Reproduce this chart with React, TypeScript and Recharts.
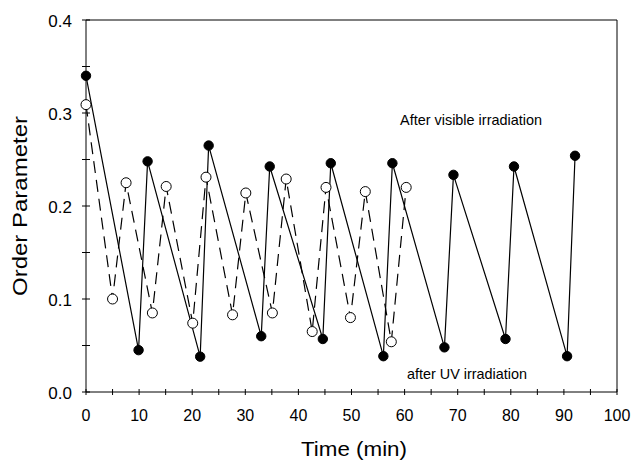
import React from "react";
import {
  ScatterChart, Scatter, XAxis, YAxis, ReferenceLine, Customized,
} from "recharts";

/* ─── data ─── */
const timeVisible = [0, 9.9, 11.6, 21.5, 23.1, 33.0, 34.6, 44.6, 46.1, 56.0, 57.7, 67.5, 69.2, 79.0, 80.6, 90.6, 92.1];
const orderVisible = [0.340, 0.045, 0.248, 0.038, 0.265, 0.060, 0.2425, 0.057, 0.246, 0.0385, 0.246, 0.048, 0.2335, 0.057, 0.2425, 0.0385, 0.254];
const timeOpen = [0, 5.0, 7.55, 12.5, 15.1, 20.1, 22.6, 27.6, 30.1, 35.1, 37.7, 42.6, 45.2, 49.8, 52.6, 57.5, 60.3];
const orderOpen = [0.309, 0.100, 0.225, 0.085, 0.221, 0.074, 0.231, 0.083, 0.214, 0.085, 0.229, 0.065, 0.220, 0.080, 0.2155, 0.054, 0.220];

const xTicks = [0, 5, 10, 15, 20, 25, 30, 35, 40, 45, 50, 55, 60, 65, 70, 75, 80, 85, 90, 95, 100];
const xLabels = [0, 10, 20, 30, 40, 50, 60, 70, 80, 90, 100];
const yTicks = [0, 0.05, 0.1, 0.15, 0.2, 0.25, 0.3, 0.35, 0.4];
const yLabels = ["0.0", "0.1", "0.2", "0.3", "0.4"];

const filledData = timeVisible.map((t, i) => ({ t, v: orderVisible[i] }));
const openData = timeOpen.map((t, i) => ({ t, v: orderOpen[i] }));

const FONT = "'Liberation Sans', Arial, sans-serif";
const Y_MARGIN = 14;
const X_MARGIN = 18;

function YTick(props: any) {
  const { x, y, payload } = props;
  const ax = x + Y_MARGIN;
  const idx = yTicks.indexOf(payload.value);
  const label = idx % 2 === 0 ? yLabels[idx / 2] : null;
  return (
    <g>
      <line x1={ax - 4} x2={ax + 4} y1={y} y2={y} stroke="#000" strokeWidth={1} />
      {label && (
        <text x={x} y={y + 1} dy="0.35em" textAnchor="end" fontSize={17} fontFamily={FONT} fill="#000">
          {label}
        </text>
      )}
    </g>
  );
}

function XTick(props: any) {
  const { x, y, payload } = props;
  const ay = y - X_MARGIN;
  const show = xLabels.includes(payload.value);
  return (
    <g>
      <line x1={x} x2={x} y1={ay - 3} y2={ay + 3} stroke="#000" strokeWidth={1} />
      {show && (
        <text x={x} y={y} dy="0.71em" textAnchor="middle" fontSize={16} fontFamily={FONT} fill="#000">
          {payload.value}
        </text>
      )}
    </g>
  );
}

// axis titles and the two notes
function Texts() {
  return (
    <g fontFamily={FONT} fill="#000">
      <text x={27} y={206} transform="rotate(-90 27 206)" textAnchor="middle" fontSize={20}
        textLength={180} lengthAdjust="spacingAndGlyphs">
        Order Parameter
      </text>
      <text x={354} y={456} textAnchor="middle" fontSize={20} textLength={106} lengthAdjust="spacingAndGlyphs">
        Time (min)
      </text>
      <text x={471} y={125} textAnchor="middle" fontSize={15} textLength={142} lengthAdjust="spacingAndGlyphs">
        After visible irradiation
      </text>
      <text x={467} y={379} textAnchor="middle" fontSize={15} textLength={120} lengthAdjust="spacingAndGlyphs">
        after UV irradiation
      </text>
    </g>
  );
}

const openDot = (p: any) => <circle cx={p.cx} cy={p.cy} r={5} fill="#fff" stroke="#000" strokeWidth={1} />;
const filledDot = (p: any) => <circle cx={p.cx} cy={p.cy} r={4.7} fill="#000" stroke="#000" />;

export default function App() {
  return (
    <div style={{ position: "absolute", left: 0, top: 0, width: 633, height: 463, background: "#fff" }}>
      <ScatterChart width={633} height={463} margin={{ top: 20, right: 16, left: 0, bottom: 0 }}>
        <XAxis
          type="number" dataKey="t" domain={[0, 100]} ticks={xTicks} interval={0}
          height={71} tickSize={0} tickMargin={X_MARGIN} tick={<XTick />}
          axisLine={{ stroke: "#000", strokeWidth: 1 }}
        />
        <YAxis
          type="number" dataKey="v" domain={[0, 0.4]} ticks={yTicks} interval={0}
          width={86} tickSize={0} tickMargin={Y_MARGIN} tick={<YTick />}
          axisLine={{ stroke: "#000", strokeWidth: 1 }}
        />
        <ReferenceLine y={0.4} stroke="#000" strokeWidth={1} />
        <ReferenceLine x={100} stroke="#000" strokeWidth={1} />
        <Scatter
          data={filledData} isAnimationActive={false} shape={filledDot}
          line={{ stroke: "#000", strokeWidth: 1.2 }}
        />
        <Scatter
          data={openData} isAnimationActive={false} shape={openDot}
          line={{ stroke: "#000", strokeWidth: 1.2, strokeDasharray: "12 7" }}
        />
        <Customized component={Texts} />
      </ScatterChart>
    </div>
  );
}
